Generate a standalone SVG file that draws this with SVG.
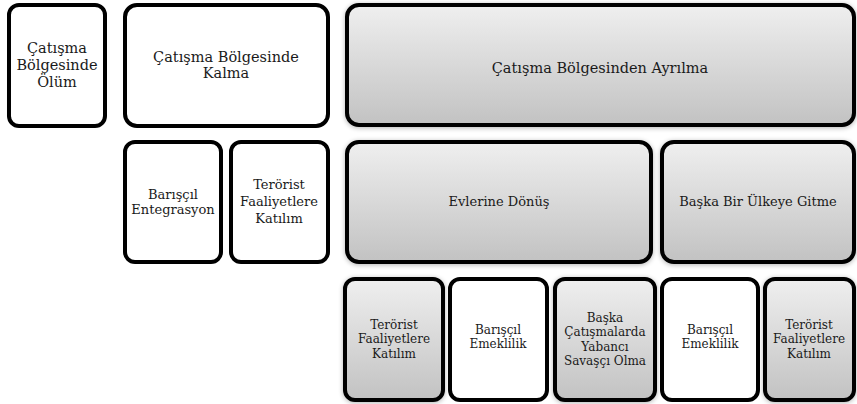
<svg xmlns="http://www.w3.org/2000/svg" width="857" height="404" viewBox="0 0 857 404">
<style>
.box{stroke:#000;stroke-width:4;}
.w{fill:#fff;}
.g{fill:url(#grad);filter:url(#sh);}
text{font-family:"DejaVu Serif","Liberation Serif",serif;fill:#1a1a1a;text-anchor:middle;}
.t1{font-size:14.5px;}
.t2{font-size:13px;}
.t3{font-size:12px;}
</style>
<defs>
<linearGradient id="grad" x1="0" y1="0" x2="0" y2="1">
<stop offset="0" stop-color="#efefef"/>
<stop offset="1" stop-color="#c2c2c2"/>
</linearGradient>
<filter id="sh" x="-10%" y="-10%" width="120%" height="120%">
<feGaussianBlur in="SourceAlpha" stdDeviation="2.5"/>
<feOffset dx="0" dy="1" result="b"/>
<feComponentTransfer><feFuncA type="linear" slope="0.3"/></feComponentTransfer>
<feMerge><feMergeNode/><feMergeNode in="SourceGraphic"/></feMerge>
</filter>
</defs>
<g id="connectors"></g>
<g id="n1"><rect class="box w" x="9" y="5" width="96" height="121" rx="10"/>
<text class="t1" x="57" y="53">Çatışma</text><text class="t1" x="57" y="70">Bölgesinde</text><text class="t1" x="57" y="87">Ölüm</text></g>
<g id="n2"><rect class="box w" x="125" y="5" width="203" height="121" rx="12"/>
<text class="t1" x="226" y="62">Çatışma Bölgesinde</text><text class="t1" x="226" y="78">Kalma</text></g>
<g id="n3"><rect class="box g" x="347" y="5" width="507" height="120" rx="12"/>
<text class="t1" x="600" y="73">Çatışma Bölgesinden Ayrılma</text></g>
<g id="n4"><rect class="box w" x="125" y="142" width="96" height="120" rx="10"/>
<text class="t2" x="173" y="199">Barışçıl</text><text class="t2" x="173" y="214">Entegrasyon</text></g>
<g id="n5"><rect class="box w" x="231" y="142" width="97" height="120" rx="10"/>
<text class="t2" x="279" y="189">Terörist</text><text class="t2" x="279" y="206">Faaliyetlere</text><text class="t2" x="279" y="223">Katılım</text></g>
<g id="n6"><rect class="box g" x="347" y="142" width="304" height="120" rx="12"/>
<text class="t2" x="499" y="206">Evlerine Dönüş</text></g>
<g id="n7"><rect class="box g" x="662" y="142" width="192" height="120" rx="12"/>
<text class="t2" x="758" y="206">Başka Bir Ülkeye Gitme</text></g>
<g id="n8"><rect class="box g" x="345" y="279" width="98" height="121" rx="10"/>
<text class="t3" x="394" y="329">Terörist</text><text class="t3" x="394" y="343">Faaliyetlere</text><text class="t3" x="394" y="358">Katılım</text></g>
<g id="n9"><rect class="box w" x="450" y="279" width="97" height="121" rx="10"/>
<text class="t3" x="498" y="334">Barışçıl</text><text class="t3" x="498" y="348">Emeklilik</text></g>
<g id="n10"><rect class="box g" x="555" y="279" width="100" height="121" rx="10"/>
<text class="t3" x="605" y="322">Başka</text><text class="t3" x="605" y="336">Çatışmalarda</text><text class="t3" x="605" y="351">Yabancı</text><text class="t3" x="605" y="365">Savaşçı Olma</text></g>
<g id="n11"><rect class="box w" x="662" y="279" width="96" height="121" rx="10"/>
<text class="t3" x="710" y="334">Barışçıl</text><text class="t3" x="710" y="348">Emeklilik</text></g>
<g id="n12"><rect class="box g" x="765" y="279" width="89" height="121" rx="10"/>
<text class="t3" x="809" y="329">Terörist</text><text class="t3" x="809" y="343">Faaliyetlere</text><text class="t3" x="809" y="358">Katılım</text></g>
</svg>
